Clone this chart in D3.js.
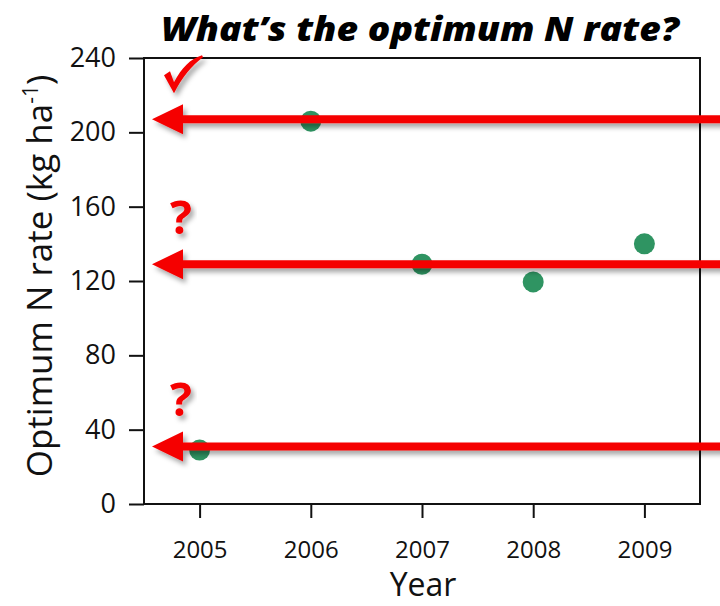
<html>
<head>
  <meta charset="utf-8" />
  <script src="https://cdn.jsdelivr.net/npm/d3@7"></script>
  <style>
    body { margin: 0; background: white; font-family: "Open Sans", "Noto Sans", sans-serif; }
  </style>
</head>
<body>
<div id="chart"></div>
<script>
// data
var years = [2005, 2006, 2007, 2008, 2009];
var optN = [29, 206, 129, 119.5, 140];
var yTicks = [0, 40, 80, 120, 160, 200, 240];
var arrowVals = [207, 129, 31];
var arrowMarks = ["check", "?", "?"];

var width = 720, height = 606;
var margin = { left: 144, right: 20, top: 58, bottom: 102 };

var svg = d3.select("#chart").append("svg")
    .attr("width", width)
    .attr("height", height);

var defs = svg.append("defs");
var f = defs.append("filter").attr("id", "shadow")
    .attr("x", "-20%").attr("y", "-50%").attr("width", "140%").attr("height", "300%");
f.append("feDropShadow").attr("dx", 3).attr("dy", 4).attr("stdDeviation", 2.5)
    .attr("flood-color", "#000").attr("flood-opacity", 0.35);

var x = d3.scaleLinear().domain([2004.5, 2009.5]).range([margin.left, width - margin.right]);
var y = d3.scaleLinear().domain([0, 240]).range([height - margin.bottom, margin.top]);

// title
svg.append("text")
    .attr("x", 420).attr("y", 41)
    .attr("text-anchor", "middle")
    .style("font-family", "'Open Sans', sans-serif")
    .style("font-weight", "800").style("font-style", "italic")
    .style("font-size", "34px")
    .attr("textLength", 518).attr("lengthAdjust", "spacingAndGlyphs")
    .text("What\u2019s the optimum N rate?");

// frame
svg.append("rect")
    .attr("x", x(2004.5)).attr("y", y(240))
    .attr("width", x(2009.5) - x(2004.5)).attr("height", y(0) - y(240))
    .attr("fill", "none").attr("stroke", "#111").attr("stroke-width", 2);

// y axis
var yAxis = svg.append("g")
    .attr("transform", "translate(" + margin.left + ",0)")
    .call(d3.axisLeft(y).tickValues(yTicks).tickSize(15).tickPadding(13));
yAxis.select(".domain").remove();
yAxis.selectAll("line").attr("stroke", "#111").attr("stroke-width", 2);
yAxis.selectAll("text").style("font-size", "27px").style("font-family", "'Open Sans', sans-serif").attr("fill", "#111");

// x axis
var xAxis = svg.append("g")
    .attr("transform", "translate(0," + (height - margin.bottom) + ")")
    .call(d3.axisBottom(x).tickValues(years).tickFormat(d3.format("d")).tickSize(14).tickPadding(23));
xAxis.select(".domain").remove();
xAxis.selectAll("line").attr("stroke", "#111").attr("stroke-width", 2);
xAxis.selectAll("text").style("font-size", "24px").style("font-family", "'Open Sans', sans-serif").attr("fill", "#111");

// axis titles
svg.append("text")
    .attr("x", 423).attr("y", 596)
    .attr("text-anchor", "middle")
    .style("font-size", "32px")
    .attr("fill", "#111")
    .text("Year");

var yt = svg.append("text")
    .attr("transform", "translate(52,276) rotate(-90)")
    .attr("text-anchor", "middle")
    .style("font-size", "35px")
    .attr("fill", "#111")
    .text("Optimum N rate (kg ha");
yt.append("tspan").attr("baseline-shift", "super").style("font-size", "21px").text("-1");
yt.append("tspan").text(")");

// points
svg.selectAll("circle.pt")
    .data(years)
    .enter().append("circle")
    .attr("class", "pt")
    .attr("cx", function(d) { return x(d); })
    .attr("cy", function(d, i) { return y(optN[i]); })
    .attr("r", 10.5)
    .attr("fill", "#2f9462");

// red arrows
var arrows = svg.selectAll("g.arrow")
    .data(arrowVals)
    .enter().append("g")
    .attr("class", "arrow")
    .attr("filter", "url(#shadow)");
arrows.append("line")
    .attr("x1", 180).attr("x2", width + 10)
    .attr("y1", function(d) { return y(d); })
    .attr("y2", function(d) { return y(d); })
    .attr("stroke", "#f50000").attr("stroke-width", 8);
arrows.append("path")
    .attr("d", function(d) {
      var yy = y(d);
      return "M152," + yy + "L183," + (yy - 15) + "L183," + (yy + 15) + "Z";
    })
    .attr("fill", "#f50000");

// check / question marks above each arrow
arrowMarks.forEach(function(m, i) {
  var yy = y(arrowVals[i]);
  if (m === "check") {
    svg.append("path")
      .attr("filter", "url(#shadow)")
      .attr("fill", "#f50000")
      .attr("d", "M164," + (yy - 44) +
                 "L170," + (yy - 48) +
                 "L174," + (yy - 37) +
                 "C182," + (yy - 52) + " 190," + (yy - 60) + " 202," + (yy - 64) +
                 "L203," + (yy - 62) +
                 "C192," + (yy - 54) + " 182," + (yy - 42) + " 174," + (yy - 26) +
                 "Z");
  } else {
    svg.append("text")
      .attr("x", 181)
      .attr("y", yy - 30)
      .attr("text-anchor", "middle")
      .attr("filter", "url(#shadow)")
      .style("font-size", "46px")
      .style("font-weight", "bold")
      .attr("fill", "#f50000")
      .text(m);
  }
});
</script>
</body>
</html>
